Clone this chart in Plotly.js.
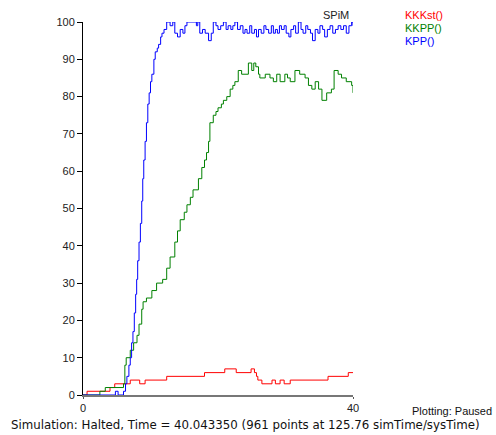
<!DOCTYPE html>
<html>
<head>
<meta charset="utf-8">
<script src="https://cdn.plot.ly/plotly-3.0.1.min.js"></script>
<style>
html,body{margin:0;padding:0;background:#fff;}
#chart{width:496px;height:435px;}
</style>
</head>
<body>
<div id="chart"></div>
<script>
// KKKst() series
const redT = [0, 0.6, 4.0, 4.7, 7.0, 8.4, 9.2, 12.4, 18.0, 21.0, 22.7, 24.9, 25.4, 25.7, 25.9, 26.2, 26.5, 28.0, 28.5, 29.2, 29.8, 30.7, 36.3, 39.3, 40];
const redV = [0, 1, 2, 3, 4, 3, 4, 5, 6, 7, 6, 7, 6, 5, 4, 4, 3, 4, 3, 4, 3, 4, 5, 6, 6];

// KKPP() series
const greenT = [0, 2.5, 3.3, 6.0, 6.2, 6.4, 7.0, 7.5, 8.0, 8.3, 8.7, 8.9, 9.4, 10.2, 10.9, 11.8, 12.4, 12.9, 13.6, 14.0, 14.4, 15.0, 15.4, 15.9, 16.3, 16.6, 17.1, 17.6, 18.0, 18.3, 18.6, 18.8, 19.3, 19.7, 20.0, 20.5, 20.8, 21.3, 21.8, 22.2, 22.5, 23.0, 23.5, 24.0, 24.5, 25.0, 25.3, 25.6, 26.0, 26.2, 27.0, 27.7, 28.2, 28.7, 29.2, 29.9, 30.3, 30.7, 31.4, 32.1, 32.9, 33.4, 33.9, 34.4, 34.9, 35.4, 36.1, 36.8, 37.2, 37.8, 38.3, 39.0, 39.8, 40];
const greenV = [0, 1, 2, 3, 8, 10, 12, 14, 16, 19, 23, 25, 26, 28, 30, 31, 34, 37, 41, 44, 47, 49, 51, 53, 55, 55, 58, 61, 63, 65, 68, 73, 75, 76, 77, 78, 79, 80, 82, 83, 84, 87, 86, 86, 89, 87, 89, 88, 86, 85, 86, 85, 84, 86, 84, 86, 85, 84, 87, 86, 85, 83, 82, 84, 82, 79, 81, 82, 87, 86, 85, 84, 83, 81];

// KPP() series
const blueT = [0, 4.8, 5.2, 6.0, 6.3, 6.5, 6.8, 7.0, 7.2, 7.4, 7.6, 7.8, 7.95, 8.1, 8.3, 8.5, 8.7, 8.85, 9.0, 9.2, 9.4, 9.6, 9.8, 10.0, 10.2, 10.5, 10.7, 11.0, 11.2, 11.5, 11.7, 12.0, 12.4, 12.9, 13.3, 13.6, 14.0, 14.4, 14.8, 15.1, 15.4, 16.8, 17.0, 17.3, 17.7, 18.1, 18.6, 19.0, 19.3, 19.7, 20.0, 20.4, 20.8, 21.2, 21.5, 21.9, 22.2, 22.5, 22.9, 23.3, 23.7, 24.0, 24.3, 24.7, 25.0, 25.4, 25.7, 26.0, 26.4, 26.8, 27.1, 27.5, 27.9, 28.2, 28.5, 28.8, 29.1, 29.4, 29.8, 30.1, 30.5, 30.8, 31.2, 31.5, 31.9, 32.3, 32.6, 33.0, 33.3, 33.7, 34.0, 34.4, 34.8, 35.1, 35.5, 35.8, 36.2, 36.6, 37.0, 37.4, 37.8, 38.2, 38.6, 39.0, 39.4, 39.8, 40];
const blueV = [0, 1, 0, 1, 3, 5, 8, 10, 14, 17, 22, 27, 31, 36, 41, 46, 52, 58, 63, 68, 73, 78, 81, 84, 86, 90, 92, 93, 94, 96, 97, 98, 100, 99, 100, 97, 96, 98, 97, 99, 100, 99, 100, 97, 98, 97, 95, 97, 100, 99, 98, 99, 100, 98, 99, 98, 99, 100, 98, 99, 97, 98, 97, 99, 97, 98, 96, 98, 97, 99, 98, 97, 99, 97, 98, 97, 99, 98, 99, 97, 96, 98, 99, 97, 100, 98, 97, 99, 98, 97, 95, 98, 97, 99, 98, 96, 98, 99, 97, 98, 99, 98, 99, 97, 99, 100, 99];

const seriesNames = ["KKKst()", "KKPP()", "KPP()"];
const seriesColors = ["#ff0000", "#008000", "#0000ff"];
const xTicks = [0, 40];
const yTicks = [0, 10, 20, 30, 40, 50, 60, 70, 80, 90, 100];

const font = "Liberation Sans, Arial, sans-serif";

const traces = [
  {x: redT, y: redV, name: seriesNames[0]},
  {x: greenT, y: greenV, name: seriesNames[1]},
  {x: blueT, y: blueV, name: seriesNames[2]}
].map((t, i) => Object.assign(t, {
  type: "scatter", mode: "lines",
  line: {color: seriesColors[i], width: 1, shape: "hv"},
  showlegend: false, hoverinfo: "none"
}));

const annotations = seriesNames.map((n, i) => ({
  text: n, xref: "paper", yref: "paper",
  x: 1.186, y: 1.02 - i * 0.035, xanchor: "left", yanchor: "middle",
  showarrow: false, font: {family: font, size: 11, color: seriesColors[i]}
}));
annotations.push({
  text: "SPiM", xref: "paper", yref: "paper", x: 0.993, y: 1.018,
  xanchor: "right", yanchor: "middle", showarrow: false,
  font: {family: font, size: 11, color: "#222"}
});
annotations.push({
  text: "Simulation: Halted, Time = 40.043350 (961 points at 125.76 simTime/sysTime)",
  xref: "paper", yref: "paper", x: -0.275, y: -0.081,
  xanchor: "left", yanchor: "middle", showarrow: false,
  font: {family: "DejaVu Sans, sans-serif", size: 11.8, color: "#111"}
});
annotations.push({
  text: "Plotting: Paused", xref: "paper", yref: "paper", x: 1.212, y: -0.043,
  xanchor: "left", yanchor: "middle", showarrow: false,
  font: {family: font, size: 11, color: "#111"}
});

const layout = {
  width: 496, height: 435,
  margin: {l: 83, r: 143, t: 22, b: 40, pad: 0},
  paper_bgcolor: "#fff", plot_bgcolor: "#fff",
  showlegend: false,
  xaxis: {
    range: [0, 40], tickvals: xTicks, ticktext: xTicks.map(String),
    showgrid: false, zeroline: false, showline: true, linecolor: "#777", linewidth: 2,
    ticks: "outside", ticklen: 2, tickcolor: "#555",
    tickfont: {family: font, size: 11, color: "#222"}
  },
  yaxis: {
    range: [0, 100], tickvals: yTicks, ticktext: yTicks.map(String),
    showgrid: false, zeroline: false, showline: true, linecolor: "#000", linewidth: 1,
    ticks: "outside", ticklen: 5, tickcolor: "#000",
    tickfont: {family: font, size: 11, color: "#222"}
  },
  annotations: annotations
};

Plotly.newPlot("chart", traces, layout, {displayModeBar: false, staticPlot: true});
</script>
</body>
</html>
